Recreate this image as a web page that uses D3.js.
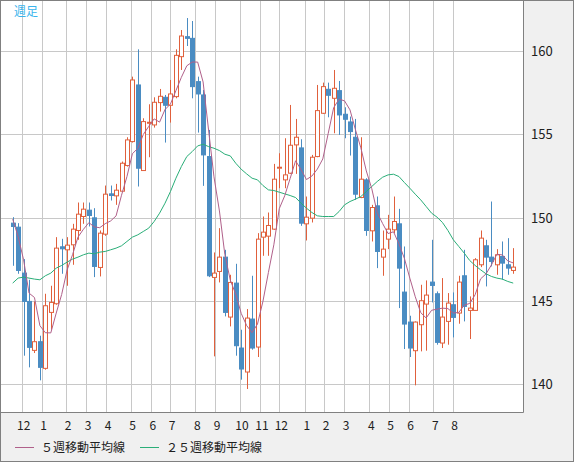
<!DOCTYPE html>
<html>
<head>
<meta charset="utf-8">
<script src="https://cdn.jsdelivr.net/npm/d3@7"></script>
<style>
  body { margin: 0; background: #f0f0f0; }
  svg { display: block; font-family: "Noto Sans CJK JP", "DejaVu Sans", sans-serif; }
</style>
</head>
<body>
<svg id="chart" width="574" height="462"></svg>
<script>
// weekly OHLC
const opens = [149.66,149.42,146.66,144.96,142.02,142.54,140.94,144.3,144.82,148.24,148.06,148.36,149.22,150.06,150.44,149.98,147.0,149.0,151.42,151.3,151.58,153.12,154.56,
  157.96,152.82,155.66,155.56,156.9,157.22,156.74,157.26,159.66,160.86,160.76,158.16,157.36,153.66,146.4,146.76,147.62,144.02,146.06,142.16,140.72,143.9,142.22,148.82,
  148.88,149.3,153.0,152.26,152.66,154.36,154.18,149.62,149.96,153.66,156.26,157.7,157.16,157.62,156.2,155.74,154.82,151.2,152.26,149.2,150.7,147.62,148.7,149.26,
  149.62,145.52,143.72,142.0,143.56,144.8,146.12,145.42,142.46,143.76,144.76,144.26,146.5,144.42,144.42,147.16,148.3,147.62,147.16,147.66,147.16,146.82];
const highs = [150.02,149.66,147.5,146.26,144.96,142.9,145.42,145.9,148.82,148.72,148.82,149.62,150.9,150.9,150.9,150.56,149.22,151.92,151.92,152.02,153.36,154.82,158.46,
  160.1,155.96,156.8,157.22,157.72,157.36,158.26,160.1,161.26,161.98,161.8,158.46,157.66,155.26,147.9,149.36,148.06,146.56,147.22,143.26,144.5,146.5,149.06,150.06,
  150.3,153.22,153.86,154.76,156.76,155.92,154.7,151.26,153.76,157.96,158.1,158.1,158.86,158.2,156.62,156.06,155.92,154.82,152.36,150.76,151.26,149.22,150.16,151.26,
  150.52,148.26,144.1,143.76,145.96,146.22,148.66,145.56,146.36,145.46,145.5,146.5,148.06,145.26,147.56,149.22,148.66,150.96,148.1,148.56,148.76,148.16];
const lows = [147.1,146.62,141.7,141.0,141.86,140.22,140.86,143.26,144.76,146.62,145.9,147.16,148.66,149.62,149.46,146.42,146.46,148.9,151.02,150.76,151.52,153.06,154.5,
  151.86,152.82,153.62,155.4,156.36,154.5,155.7,157.16,158.86,160.3,157.16,155.1,151.9,146.42,141.66,146.1,144.06,143.46,141.7,140.26,139.7,142.06,141.62,147.7,
  147.7,149.26,151.76,151.76,152.62,152.62,149.5,148.62,149.7,153.62,156.22,156.02,155.06,154.96,154.76,153.72,151.06,151.16,148.9,148.56,146.96,146.5,148.1,149.06,
  144.56,142.1,141.62,139.92,141.96,142.0,144.9,142.36,142.16,142.36,142.8,143.62,143.76,142.7,144.42,147.02,145.86,147.06,146.56,146.26,146.56,146.62];
const closes = [149.46,146.82,144.96,142.2,142.54,141.0,144.7,144.9,148.16,148.12,148.34,149.3,150.2,150.5,150.12,147.06,149.06,151.4,151.32,151.64,153.26,154.66,158.26,
  152.96,155.76,155.72,156.92,157.28,156.74,157.42,159.74,160.9,160.76,157.86,157.42,153.76,146.5,146.66,147.62,144.3,146.1,142.3,140.9,143.96,142.16,148.7,149.12,
  149.52,152.3,153.02,152.56,154.34,154.82,149.66,150.02,153.62,156.42,157.86,157.34,157.76,156.16,155.9,155.16,151.4,152.3,149.22,150.6,147.96,148.1,149.3,149.76,
  146.96,143.6,142.16,143.72,145.0,145.34,145.92,142.5,144.02,144.86,144.0,146.12,144.66,144.56,147.46,148.76,147.62,147.36,147.76,147.26,146.96,147.02];
// 5-week MA for the first four weeks (earlier closes are off the chart)
const ma5Lead = [149.9, 148.86, 147.46, 145.46];
// 25-week MA
const ma25 = [146.06,146.36,146.42,146.36,146.3,146.26,146.5,146.66,146.96,147.12,147.32,147.5,147.62,147.76,147.86,147.82,147.92,147.96,148.06,148.16,148.3,148.56,148.82,
  148.96,149.16,149.36,149.76,150.26,150.86,151.56,152.36,153.06,153.66,153.96,154.3,154.4,154.26,154.16,154.02,153.8,153.7,153.26,152.9,152.62,152.36,152.26,151.92,
  151.66,151.62,151.52,151.42,151.32,151.2,150.86,150.56,150.3,150.1,150.06,150.06,150.06,150.36,150.76,150.96,151.1,151.26,151.56,151.86,152.16,152.42,152.56,152.6,
  152.46,152.1,151.76,151.4,151.06,150.66,150.26,150.02,149.7,149.22,148.66,148.26,147.86,147.42,147.12,146.86,146.62,146.46,146.36,146.3,146.16,146.06];
const monthLabels = ['12','1','2','3','4','5','6','7','8','9','10','11','12','1','2','3','4','5','6','7','8'];
const monthStart = [1.65,5.33,9.8,13.47,17.15,21.69,25.37,28.92,33.57,37.19,41.78,45.46,49.01,53.68,57.22,60.9,65.55,69.11,72.79,77.32,80.88];
const yTicks = [140, 145, 150, 155, 160];

const ma5 = closes.map((c, i) => i < 4 ? ma5Lead[i] : d3.mean(closes.slice(i - 4, i + 1)));
const candles = closes.map((c, i) => ({i, o: opens[i], h: highs[i], l: lows[i], c}));

const plot = {left: 1, top: 1, right: 523, bottom: 412};
const svg = d3.select('#chart');

const x = d3.scaleLinear().domain([0, candles.length - 1]).range([12.7, 513.2]);
const y = d3.scaleLinear().domain([140, 160]).range([384, 51]);

svg.append('rect')
    .attr('x', 0.5).attr('y', 0.5).attr('width', 573).attr('height', 461)
    .attr('fill', '#f0f0f0').attr('stroke', '#808080');
svg.append('rect')
    .attr('x', plot.left).attr('y', plot.top)
    .attr('width', plot.right - plot.left).attr('height', plot.bottom - plot.top)
    .attr('fill', '#ffffff');

// grid
svg.append('g').selectAll('line').data(yTicks).join('line')
    .attr('x1', plot.left).attr('x2', plot.right)
    .attr('y1', d => Math.round(y(d)) + 0.5).attr('y2', d => Math.round(y(d)) + 0.5)
    .attr('stroke', '#c8c8c8');
svg.append('g').selectAll('line').data(monthStart).join('line')
    .attr('x1', d => Math.round(x(d)) + 0.5).attr('x2', d => Math.round(x(d)) + 0.5)
    .attr('y1', plot.top).attr('y2', plot.bottom)
    .attr('stroke', '#c8c8c8');

// frame
svg.append('path')
    .attr('d', `M${plot.right + 0.5},0 V${plot.bottom + 0.5} H0`)
    .attr('fill', 'none').attr('stroke', '#808080');

// candles
const cg = svg.append('g').selectAll('g').data(candles).join('g');
cg.append('line')
    .attr('x1', d => Math.round(x(d.i)) + 0.5).attr('x2', d => Math.round(x(d.i)) + 0.5)
    .attr('y1', d => y(d.h)).attr('y2', d => y(d.l))
    .attr('stroke', d => d.c >= d.o ? '#e0603c' : '#4a8cc2');
cg.append('rect')
    .attr('x', d => Math.round(x(d.i)) - 1.5)
    .attr('y', d => y(Math.max(d.o, d.c)))
    .attr('width', 4)
    .attr('height', d => Math.max(1, Math.abs(y(d.o) - y(d.c))))
    .attr('fill', d => d.c >= d.o ? '#ffffff' : '#4a8cc2')
    .attr('stroke', d => d.c >= d.o ? '#e0603c' : '#4a8cc2');

// moving averages
const line = d3.line().x((d, i) => x(i)).y(d => y(d));
svg.append('path').datum(ma25).attr('d', line)
    .attr('fill', 'none').attr('stroke', '#2aae78').attr('stroke-width', 1);
svg.append('path').datum(ma5).attr('d', line)
    .attr('fill', 'none').attr('stroke', '#b0608a').attr('stroke-width', 1);

// y axis labels
svg.append('g').selectAll('text').data(yTicks).join('text')
    .attr('x', 531).attr('y', d => y(d) + 5)
    .attr('font-size', 13).attr('fill', '#202020')
    .text(d => d);

// month labels
svg.append('g').selectAll('text').data(monthLabels).join('text')
    .attr('x', (d, i) => x(monthStart[i]) + 2).attr('y', 430)
    .attr('text-anchor', 'middle')
    .attr('font-size', 12).attr('fill', '#202020')
    .text(d => d);

svg.append('text')
    .attr('x', 14).attr('y', 16)
    .attr('font-size', 12).attr('fill', '#3ab4ec')
    .text('週足');

// legend
const legendItems = [
  {label: '５週移動平均線', color: '#b0608a', x0: 15},
  {label: '２５週移動平均線', color: '#2aae78', x0: 140}
];
const lg = svg.append('g').selectAll('g').data(legendItems).join('g');
lg.append('line')
    .attr('x1', d => d.x0).attr('x2', d => d.x0 + 19)
    .attr('y1', 447.5).attr('y2', 447.5)
    .attr('stroke', d => d.color);
lg.append('text')
    .attr('x', d => d.x0 + 26).attr('y', 452)
    .attr('font-size', 12).attr('fill', '#202020')
    .text(d => d.label);
</script>
</body>
</html>
